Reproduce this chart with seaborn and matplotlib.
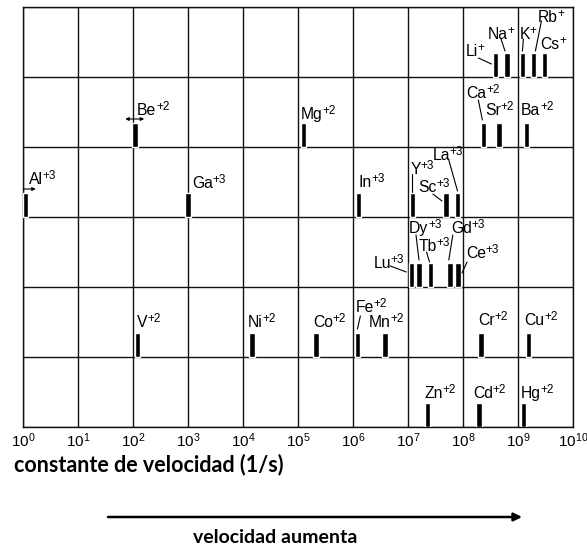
import matplotlib
matplotlib.use("Agg")
import matplotlib.pyplot as plt
import seaborn as sns
import pandas as pd

# Metal ions, their charge, the row (group) they are drawn in and log10 of the
# water-exchange rate constant (1/s)
ions = ["Li", "Na", "K", "Rb", "Cs",
        "Be", "Mg", "Ca", "Sr", "Ba",
        "Al", "Ga", "In", "Y", "Sc", "La",
        "Lu", "Dy", "Tb", "Gd", "Ce",
        "V", "Ni", "Co", "Fe", "Mn", "Cr", "Cu",
        "Zn", "Cd", "Hg"]
charges = ["+", "+", "+", "+", "+",
           "+2", "+2", "+2", "+2", "+2",
           "+3", "+3", "+3", "+3", "+3", "+3",
           "+3", "+3", "+3", "+3", "+3",
           "+2", "+2", "+2", "+2", "+2", "+2", "+2",
           "+2", "+2", "+2"]
rows = [0] * 5 + [1] * 5 + [2] * 6 + [3] * 5 + [4] * 7 + [5] * 3
log_k = [8.59, 8.80, 9.08, 9.28, 9.48,
         2.04, 5.10, 8.37, 8.65, 9.15,
         0.05, 3.00, 6.10, 7.08, 7.69, 7.90,
         7.06, 7.20, 7.41, 7.76, 7.91,
         2.08, 4.16, 5.33, 6.08, 6.58, 8.33, 9.19,
         7.35, 8.29, 9.10]
decades = list(range(0, 11))
n_rows = 6

df = pd.DataFrame({"ion": ions, "charge": charges, "row": rows, "log_k": log_k})
df["base"] = n_rows - 1 - df["row"]

# label placement (pixels relative to bar centre / row baseline)
label_off = {
    "Li": (-30, 27), "Na": (-19, 44), "K": (-3, 44), "Rb": (4, 61), "Cs": (-4, 34),
    "Be": (2, 38), "Mg": (-3, 34), "Ca": (-17, 55), "Sr": (-14, 38), "Ba": (-5, 38),
    "Al": (3, 39), "Ga": (4, 35), "In": (0, 36), "Y": (-2, 49), "Sc": (-28, 31),
    "La": (-25, 63),
    "Lu": (-38, 25), "Dy": (-10, 60), "Tb": (-12, 42), "Gd": (1, 60), "Ce": (8, 35),
    "V": (0, 36), "Ni": (-4, 36), "Co": (-3, 36), "Fe": (-2, 51), "Mn": (-16, 36),
    "Cr": (-3, 38), "Cu": (-4, 38),
    "Zn": (-3, 35), "Cd": (-6, 35), "Hg": (-3, 35),
}
# leader lines: (start, end) in pixels relative to bar centre / row baseline
leaders = {
    "Li": ((-17, 19), (-4, 13)), "Na": ((-6, 38), (-2, 26)),
    "K": ((1, 38), (0, 26)), "Rb": ((8, 56), (2, 26)),
    "Ca": ((-5, 47), (-1, 27)),
    "Y": ((0, 43), (0, 25)), "Sc": ((-13, 23), (-4, 16)), "La": ((-9, 58), (0, 26)),
    "Lu": ((-21, 21), (-5, 15)), "Dy": ((-3, 52), (0, 27)),
    "Tb": ((-4, 35), (-1, 25)), "Gd": ((3, 52), (-1, 27)), "Ce": ((9, 25), (4, 14)),
    "Fe": ((3, 41), (0, 28)),
}

PX_DEC, PX_ROW = 55.0, 70.0
BAR_H = 24 / PX_ROW
BAR_W = 5.5 / PX_DEC
MAIN_FS, SUP_FS, SUP_RAISE = 11.3, 8.5, 5

sns.set_theme(style="white")
plt.rcParams["font.family"] = ["Liberation Sans", "DejaVu Sans"]
plt.rcParams["mathtext.fontset"] = "custom"
plt.rcParams["mathtext.rm"] = "Liberation Sans"
plt.rcParams["mathtext.it"] = "Liberation Sans:italic"
plt.rcParams["mathtext.bf"] = "Liberation Sans:bold"

W, H = 587, 549
fig = plt.figure(figsize=(W / 100, H / 100), dpi=100)
ax = fig.add_axes([23 / W, 122 / H, 550 / W, 420 / H])
ax.set_xlim(decades[0], decades[-1])
ax.set_ylim(0, n_rows)

ax.set_xticks(decades)
ax.set_xticklabels([rf"$\mathregular{{10^{{{d}}}}}$" for d in decades], fontsize=11)
ax.set_yticks(range(n_rows + 1))
ax.set_yticklabels([])
ax.tick_params(length=0, pad=3, colors="black")
ax.grid(True, color="#111111", lw=1.0)
for s in ax.spines.values():
    s.set_color("#111111")
    s.set_linewidth(1.0)

ax.bar(df["log_k"], BAR_H, width=BAR_W, bottom=df["base"], color="black",
       align="center", zorder=3)

renderer = fig.canvas.get_renderer()
for _, r in df.iterrows():
    x, b = r["log_k"], r["base"]
    dx, dy = label_off[r["ion"]]
    base_dy = dy - 6
    main = ax.annotate(r["ion"], xy=(x, b), xytext=(dx, base_dy),
                       textcoords="offset pixels", ha="left", va="baseline",
                       fontsize=MAIN_FS, color="black", annotation_clip=False,
                       zorder=4)
    w = main.get_window_extent(renderer).width
    ax.annotate(r["charge"], xy=(x, b), xytext=(dx + w - 0.3, base_dy + SUP_RAISE),
                textcoords="offset pixels", ha="left", va="baseline",
                fontsize=SUP_FS, color="black", annotation_clip=False, zorder=4)
    if r["ion"] in leaders:
        (sx, sy), (ex, ey) = leaders[r["ion"]]
        ax.plot([x + sx / PX_DEC, x + ex / PX_DEC], [b + sy / PX_ROW, b + ey / PX_ROW],
                color="black", lw=0.8, zorder=4, clip_on=False)

# small arrows marking Be and Al
be = df[df["ion"] == "Be"].iloc[0]
ax.annotate("", xy=(be["log_k"] + 9 / PX_DEC, be["base"] + 28 / PX_ROW),
            xytext=(be["log_k"] - 10 / PX_DEC, be["base"] + 28 / PX_ROW),
            arrowprops=dict(arrowstyle="<|-|>", lw=0.8, color="black",
                            mutation_scale=5, shrinkA=0, shrinkB=0))
al = df[df["ion"] == "Al"].iloc[0]
ax.annotate("", xy=(al["log_k"] + 10 / PX_DEC, al["base"] + 28 / PX_ROW),
            xytext=(al["log_k"] - 2.5 / PX_DEC, al["base"] + 28 / PX_ROW),
            arrowprops=dict(arrowstyle="-|>", lw=0.8, color="black",
                            mutation_scale=5, shrinkA=0, shrinkB=0),
            annotation_clip=False)

fig.text(14 / W, 1 - 471 / H, "constante de velocidad (1/s)", fontweight="bold",
         family="Lato", fontsize=15.5, ha="left", va="baseline", color="black")
ax.annotate("", xy=(522 / W, 1 - 517 / H), xytext=(108 / W, 1 - 517 / H),
            xycoords="figure fraction", textcoords="figure fraction",
            arrowprops=dict(arrowstyle="-|>", lw=1.8, color="black",
                            mutation_scale=12, shrinkA=0, shrinkB=0),
            annotation_clip=False)
fig.text(275 / W, 1 - 543 / H, "velocidad aumenta", fontweight="bold",
         family="Lato", fontsize=14, ha="center", va="baseline", color="black")

fig.savefig("out.png", dpi=100, facecolor="white")
